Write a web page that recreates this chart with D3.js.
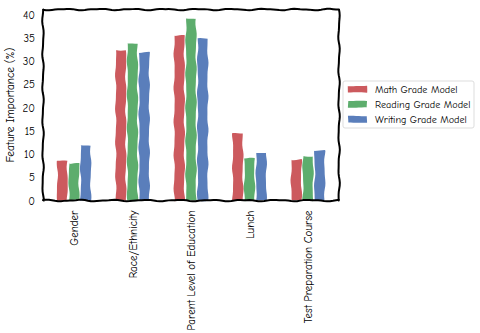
<!DOCTYPE html>
<html><head><meta charset="utf-8">
<script src="https://cdn.jsdelivr.net/npm/d3@7"></script>
<style>body{margin:0;background:#fff}svg{display:block}text{font-family:"Humor Sans","Comic Sans MS","Comic Neue","DejaVu Sans",sans-serif}</style>
</head><body>
<svg id="c" width="480" height="333"></svg>
<script>
const categories = ["Gender","Race/Ethnicity","Parent Level of Education","Lunch","Test Preparation Course"];
const seriesNames = ["Math Grade Model","Reading Grade Model","Writing Grade Model"];
const mathValues = [8.5, 32.4, 35.5, 14.4, 8.8];
const readingValues = [8.0, 33.7, 39.1, 9.05, 9.5];
const writingValues = [11.8, 31.9, 34.8, 10.3, 10.7];
const yTicks = [0,5,10,15,20,25,30,35,40];
const colors = ["#cc5a5e","#5dad6d","#5a7ebb"];

const series = [mathValues, readingValues, writingValues];
const svg = d3.select("#c");

// hand-drawn look: a smooth deterministic wobble along each edge
function wob(t, ph, a) { return a*(0.6*Math.sin(t*0.19 + ph) + 0.25*Math.sin(t*0.37 + ph*1.7)); }
function edge(x0, y0, x1, y1, ph, a) {
  const len = Math.hypot(x1-x0, y1-y0), n = Math.max(2, Math.ceil(len/3));
  const nx = -(y1-y0)/len, ny = (x1-x0)/len, pts = [];
  for (let k = 0; k <= n; k++) {
    const t = k/n, s = t*len, w = wob(s + x0*0.7 + y0*0.3, ph, a);
    pts.push([x0 + (x1-x0)*t + nx*w, y0 + (y1-y0)*t + ny*w]);
  }
  return pts;
}
function sketchRect(x0, y0, x1, y1, ph, a = 1) {
  const pts = [].concat(edge(x0,y0,x1,y0,ph,a), edge(x1,y0,x1,y1,ph+1,a), edge(x1,y1,x0,y1,ph+2,a), edge(x0,y1,x0,y0,ph+3,a));
  return d3.line().curve(d3.curveLinearClosed)(pts);
}

const L=43, R=339, T=9.5, B=200.5;
const x = d3.scaleLinear().domain([-0.53, 4.53]).range([L, R]);
const y = d3.scaleLinear().domain([0, 41.1]).range([B, T]);
const bw = 0.2;

series.forEach((vals, si) => {
  svg.append("g").selectAll("path").data(vals).enter().append("path")
    .attr("d", (d,i) => sketchRect(x(i + (si-1)*bw - bw/2) + 0.8, y(d), x(i + (si-1)*bw + bw/2) - 0.8, y(0), si*2.3 + i*1.1, 0.9))
    .attr("fill", colors[si]);
});

// frame
svg.append("path").attr("d", sketchRect(L, T, R, B, 0.4, 1))
  .attr("fill","none").attr("stroke","#000").attr("stroke-width",2).attr("stroke-linejoin","round");

// y axis labels
const yAxis = d3.axisLeft(y).tickValues(yTicks).tickSize(0).tickPadding(8);
const ya = svg.append("g").attr("transform",`translate(${L},0)`).call(yAxis);
ya.select(".domain").remove();
ya.selectAll("text").attr("font-size",11).attr("fill","#000").style("font-family",null);

// x axis labels
const xAxis = d3.axisBottom(x).tickValues(d3.range(categories.length)).tickFormat(i => categories[i]).tickSize(0).tickPadding(0);
const xa = svg.append("g").attr("transform",`translate(0,${B})`).call(xAxis);
xa.select(".domain").remove();
xa.selectAll("text").attr("font-size",11).attr("fill","#000")
  .attr("transform","rotate(-90)").attr("text-anchor","end").attr("dy","0.35em").attr("x",-10).attr("y",0).style("font-family",null);

// y label
svg.append("text").attr("transform",`translate(14,${(T+B)/2}) rotate(-90)`).attr("text-anchor","middle")
  .attr("font-size",11.2).text("Feature Importance (%)");

// legend
const lg = svg.append("g").attr("transform","translate(343,81)");
lg.append("rect").attr("width",131).attr("height",47).attr("rx",2).attr("fill","#fff").attr("stroke","#ddd").attr("stroke-width",1);
seriesNames.forEach((n,i)=>{
  lg.append("path").attr("d", sketchRect(5, 5+i*15, 24, 11.5+i*15, i, 0.4)).attr("fill",colors[i]);
  lg.append("text").attr("x",32).attr("y",8.5+i*15).attr("dy","0.35em").attr("font-size",10.2).text(n);
});
</script>
</body></html>
